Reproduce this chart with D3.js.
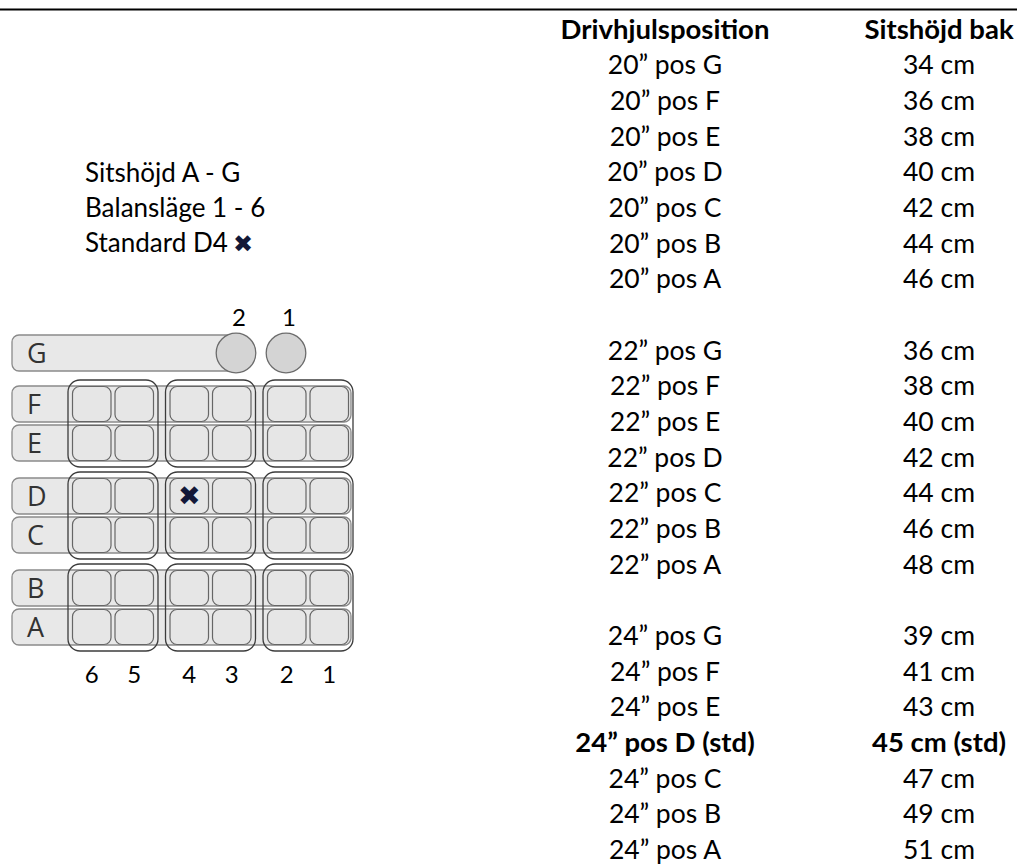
<!DOCTYPE html>
<html><head><meta charset="utf-8">
<script src="https://cdn.jsdelivr.net/npm/d3@7"></script>
<style>html,body{margin:0;padding:0;background:#fff;} svg{display:block}</style>
</head><body>
<script>
// ---- data ----
const heightLetters = ["G","F","E","D","C","B","A"];
const balancePositions = ["6","5","4","3","2","1"];
const gPositions = ["2","1"];
const legendLines = ["Sitshöjd A - G","Balansläge 1 - 6","Standard D4"];
const standardRow = "D";
const standardBalance = "4";
const headers = ["Drivhjulsposition","Sitshöjd bak"];
const wheelSizes = ["20","22","24"];
const tablePositions = ["G","F","E","D","C","B","A"];
const seatHeights20 = [34,36,38,40,42,44,46];
const seatHeights22 = [36,38,40,42,44,46,48];
const seatHeights24 = [39,41,43,45,47,49,51];
const standardWheel = "24";
const standardPos = "D";

const W = 1017, H = 866;
const svg = d3.select("body").append("svg").attr("width", W).attr("height", H);
const TXT = "Lato, 'Open Sans', sans-serif";
const LET = "'Open Sans', 'DejaVu Sans', sans-serif";
const X = "\u2716";

// top rule
svg.append("line").attr("x1",0).attr("x2",W).attr("y1",9.5).attr("y2",9.5)
  .attr("stroke","#000").attr("stroke-width",2);

// ---- table ----
const rows = [];
rows.push({i:0, a:headers[0], b:headers[1], bold:true});
const hs = [seatHeights20, seatHeights22, seatHeights24];
wheelSizes.forEach((w,k)=>{
  tablePositions.forEach((p,i)=>{
    const std = (w===standardWheel && p===standardPos);
    rows.push({i:1+k*8+i, a:`${w}\u201D pos ${p}` + (std?" (std)":""),
      b:`${hs[k][i]} cm` + (std?" (std)":""), bold:std});
  });
});
const yRow = d3.scaleLinear().domain([0,23]).range([38.5,859]);
const xCol = d3.scaleOrdinal().domain(["a","b"]).range([665,939]);
const tg = svg.append("g").attr("font-family",TXT).attr("fill","#000");
["a","b"].forEach(c=>{
  tg.selectAll("text."+c).data(rows).join("text").attr("class",c)
    .attr("x",xCol(c)).attr("y",d=>yRow(d.i)).attr("text-anchor","middle")
    .attr("font-size",d=>d.bold?27.5:26.5)
    .attr("font-weight",d=>d.bold?"bold":"normal").text(d=>d[c]);
});

// ---- legend text ----
const yLeg = d3.scaleLinear().domain([0,2]).range([182,252]);
const lg = svg.append("g").attr("font-family",TXT).attr("font-size",26).attr("fill","#000");
lg.selectAll("text").data(legendLines).join("text")
  .attr("x",85).attr("y",(d,i)=>yLeg(i)).text(d=>d);
lg.append("text").attr("x",233).attr("y",yLeg(2)).attr("font-family","'DejaVu Sans'")
  .attr("font-size",24).attr("fill","#131838").text(X);

// ---- diagram ----
const dg = svg.append("g");
const xGroup = d3.scaleBand().domain([0,1,2]).range([68,353]).paddingInner(0.077);
const xCell = d3.scaleBand().domain([0,1]).range([4.5,85.5]).paddingInner(0.094);
const yPair = d3.scaleBand().domain([0,1,2]).range([386,645]).paddingInner(17/92);
const yInner = d3.scaleBand().domain([0,1]).range([0,75]).paddingInner(3/39);
const rowLetters = heightLetters.slice(1); // F..A
const rowY = (i)=> yPair(Math.floor(i/2)) + yInner(i%2);
const barH = yInner.bandwidth();
const gY = yPair(0) - 51;
const cellX = (c)=> xGroup(Math.floor(c/2)) + xCell(c%2);
const cellW = xCell.bandwidth();

// bars
dg.append("rect").attr("x",12).attr("y",gY).attr("width",233).attr("height",barH)
  .attr("rx",7).attr("fill","#e8e8e8").attr("stroke","#8a8a8a").attr("stroke-width",1.3);
dg.selectAll("rect.bar").data(rowLetters).join("rect").attr("class","bar")
  .attr("x",12).attr("y",(d,i)=>rowY(i)).attr("width",339).attr("height",barH)
  .attr("rx",7).attr("fill","#e8e8e8").attr("stroke","#8a8a8a").attr("stroke-width",1.3);

// letters
dg.selectAll("text.let").data(heightLetters).join("text").attr("class","let")
  .attr("x",27).attr("y",(d,i)=> (i===0?gY:rowY(i-1)) + barH/2 + 9.5)
  .attr("font-family",LET).attr("font-size",27).attr("fill","#333").text(d=>d);

// circles on G
const xG = d3.scalePoint().domain(gPositions).range([236,286]);
dg.selectAll("circle").data(gPositions).join("circle")
  .attr("cx",d=>xG(d)).attr("cy",gY+barH/2).attr("r",19.8)
  .attr("fill","#d4d4d4").attr("stroke","#6c6c6c").attr("stroke-width",1.3);

// cells
const cells = [];
rowLetters.forEach((r,i)=> balancePositions.forEach((b,c)=> cells.push({r,i,b,c})));
dg.selectAll("rect.cell").data(cells).join("rect").attr("class","cell")
  .attr("x",d=>cellX(d.c)).attr("y",d=>rowY(d.i)+0.5).attr("width",cellW).attr("height",barH-1)
  .attr("rx",7).attr("fill","#e6e6e6").attr("stroke","#666").attr("stroke-width",1.2);

// group outlines
const groups = [];
[0,1,2].forEach(p=>[0,1,2].forEach(g=>groups.push({p,g})));
dg.selectAll("rect.grp").data(groups).join("rect").attr("class","grp")
  .attr("x",d=>xGroup(d.g)).attr("y",d=>yPair(d.p)-6).attr("width",xGroup.bandwidth())
  .attr("height",75+12).attr("rx",12).attr("fill","none")
  .attr("stroke","#3c3c3c").attr("stroke-width",1.3);

// standard cross
const sc = cells.find(d=>d.r===standardRow && d.b===standardBalance);
dg.append("text").attr("x",cellX(sc.c)+cellW/2).attr("y",rowY(sc.i)+barH/2+9)
  .attr("text-anchor","middle").attr("font-family","'DejaVu Sans'").attr("font-size",27)
  .attr("fill","#131838").text(X);

// labels
dg.selectAll("text.top").data(gPositions).join("text").attr("class","top")
  .attr("x",d=>xG(d)+3).attr("y",326).attr("text-anchor","middle")
  .attr("font-family",TXT).attr("font-size",24).attr("fill","#000").text(d=>d);
dg.selectAll("text.bot").data(balancePositions).join("text").attr("class","bot")
  .attr("x",(d,c)=>cellX(c)+cellW/2).attr("y",683).attr("text-anchor","middle")
  .attr("font-family",TXT).attr("font-size",24).attr("fill","#000").text(d=>d);
</script>
</body></html>
